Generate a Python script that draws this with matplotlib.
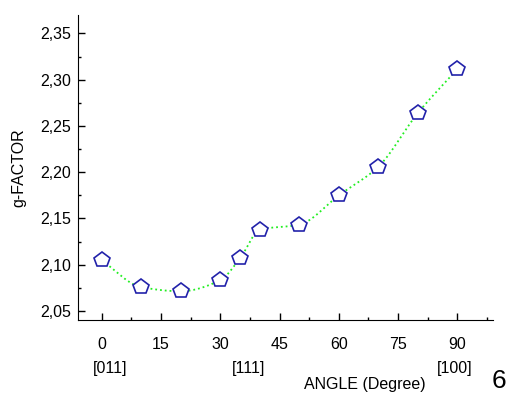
import numpy as np
import matplotlib.pyplot as plt
from matplotlib.ticker import FuncFormatter, MultipleLocator

plt.rcParams['font.family'] = ['Liberation Sans', 'DejaVu Sans']

# measured g-factor vs rotation angle
angle = [0, 10, 20, 30, 35, 40, 50, 60, 70, 80, 90]
g_factor = [2.1046, 2.0757, 2.0713, 2.0833, 2.1070, 2.1378, 2.1433, 2.1750, 2.2060, 2.2640, 2.3115]
x_ticks = [0, 15, 30, 45, 60, 75, 90]
y_ticks = [2.05, 2.10, 2.15, 2.20, 2.25, 2.30, 2.35]
directions = ['[011]', '[111]', '[100]']


def pchip(x, y, xs):
    # shape preserving cubic through the points (Fritsch-Carlson)
    x = np.asarray(x, float)
    y = np.asarray(y, float)
    h = np.diff(x)
    delta = np.diff(y) / h
    n = len(x)
    m = np.zeros(n)
    for i in range(1, n - 1):
        if delta[i - 1] * delta[i] > 0:
            w1 = 2 * h[i] + h[i - 1]
            w2 = h[i] + 2 * h[i - 1]
            m[i] = (w1 + w2) / (w1 / delta[i - 1] + w2 / delta[i])
    m[0] = delta[0]
    m[-1] = delta[-1]
    out = np.empty_like(xs)
    for k, t in enumerate(xs):
        i = min(max(np.searchsorted(x, t) - 1, 0), n - 2)
        s = (t - x[i]) / h[i]
        h00 = 2 * s ** 3 - 3 * s ** 2 + 1
        h10 = s ** 3 - 2 * s ** 2 + s
        h01 = -2 * s ** 3 + 3 * s ** 2
        h11 = s ** 3 - s ** 2
        out[k] = h00 * y[i] + h10 * h[i] * m[i] + h01 * y[i + 1] + h11 * h[i] * m[i + 1]
    return out


fig = plt.figure(figsize=(5.14, 3.94), dpi=100)
ax = fig.add_axes([0.152, 0.188, 0.807, 0.774])

xs = np.linspace(angle[0], angle[-1], 300)
ax.plot(xs, pchip(angle, g_factor, xs), ':', color='#22ee22', lw=1.3, zorder=1)
ax.plot(angle, g_factor, 'p', ms=11.5, mfc='white', mec='#2222aa', mew=1.2, zorder=2)

ax.set_xlim(-6, 99)
ax.set_ylim(2.0403, 2.37)
ax.set_xticks(x_ticks)
ax.set_yticks(y_ticks)
ax.xaxis.set_minor_locator(MultipleLocator(7.5))
ax.yaxis.set_minor_locator(MultipleLocator(0.025))
ax.yaxis.set_major_formatter(FuncFormatter(lambda v, p: f'{v:.2f}'.replace('.', ',')))

ax.spines['top'].set_visible(False)
ax.spines['right'].set_visible(False)
ax.tick_params(which='both', direction='in', labelsize=11.5, width=1)
ax.tick_params(which='major', length=5)
ax.tick_params(which='minor', length=2.5)
ax.tick_params(axis='x', which='major', pad=12)
ax.tick_params(axis='y', which='major', pad=5)

ax.set_ylabel('g-FACTOR', fontsize=11.5, labelpad=10)

W, H = 514, 394
for label, px in zip(directions, [110, 249, 455]):
    fig.text(px / W, 1 - 368 / H, label, ha='center', va='center', fontsize=11.5)
fig.text(365 / W, 1 - 385 / H, 'ANGLE (Degree)', ha='center', va='center', fontsize=11.5)
fig.text(499 / W, 1 - 381 / H, '6', ha='center', va='center', fontsize=19)

fig.savefig('out.png', dpi=100)
